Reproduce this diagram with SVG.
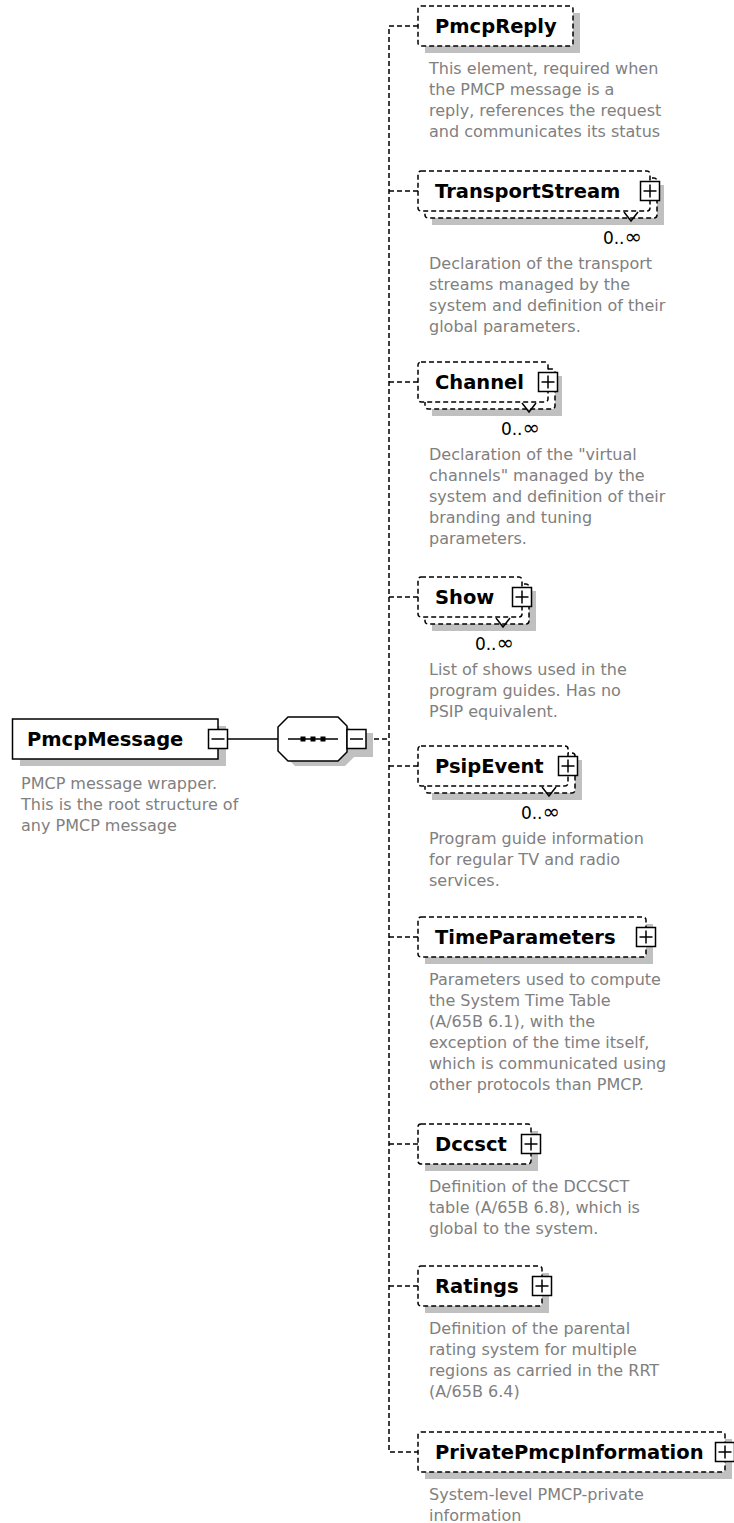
<svg xmlns="http://www.w3.org/2000/svg" width="734" height="1523" viewBox="0 0 734 1523">
  <style>
    .title { font-family: "DejaVu Sans", sans-serif; font-weight: bold; font-size: 19.5px; fill: #000; }
    .desc { font-family: "DejaVu Sans", sans-serif; font-size: 16px; fill: #808080; }
    .occ { font-family: "DejaVu Sans", sans-serif; font-size: 17px; fill: #000; text-anchor: end; }
    .inf { font-size: 21px; }
    .shadow { fill: #c0c0c0; stroke: none; }
    .req { fill: #fff; stroke: #000; stroke-width: 1.5; }
    .opt { fill: #fff; stroke: #000; stroke-width: 1.5; stroke-dasharray: 5 3; }
    .btn { fill: #fff; stroke: #000; stroke-width: 1.5; }
    .sign { fill: none; stroke: #000; stroke-width: 1.5; }
    .solid { fill: none; stroke: #000; stroke-width: 1.5; }
    .dash { fill: none; stroke: #000; stroke-width: 1.5; stroke-dasharray: 5 3; }
  </style>
  <defs>
    <!-- expand / collapse buttons, centred on 0,0 -->
    <g id="plus">
      <rect class="btn" x="-9.5" y="-9.5" width="19" height="19"/>
      <path class="sign" d="M-6.5 0H6.5M0 -6.5V6.5"/>
    </g>
    <g id="minus">
      <rect class="btn" x="-9.5" y="-9.5" width="19" height="19"/>
      <path class="sign" d="M-6.5 0H6.5"/>
    </g>
  </defs>
  <rect width="734" height="1523" fill="#fff"/>

  <!-- connectors -->
  <g id="connectors">
    <path class="solid" d="M227.5 739H278"/>
    <path class="dash" d="M366 739H389"/>
    <path class="dash" d="M418 26H389V1452H418"/>
    <path class="dash" d="M389 191H418M389 382H418M389 597H418M389 766H418M389 937H418M389 1144H418M389 1286H418"/>
  </g>

  <!-- root element -->
  <g id="PmcpMessage">
    <rect class="shadow" x="20" y="726" width="206" height="40"/>
    <rect class="req" x="12.5" y="719" width="205.5" height="40"/>
    <use href="#minus" x="218" y="739"/>
    <text class="title" x="27" y="746">PmcpMessage</text>
    <text class="desc" x="21" y="789">PMCP message wrapper.</text>
    <text class="desc" x="21" y="810">This is the root structure of</text>
    <text class="desc" x="21" y="831">any PMCP message</text>
  </g>

  <!-- sequence compositor -->
  <g id="sequence">
    <polygon class="shadow" points="295,724 345,724 354,733 373,733 373,757 354,757 345,766 295,766 285,756 285,734"/>
    <polygon class="req" points="288,717 338,717 347,726 347,752 338,761 288,761 278,751 278,727"/>
    <path class="solid" d="M288 739H338"/>
    <rect x="300.5" y="736.5" width="5" height="5" fill="#000"/>
    <rect x="310.5" y="736.5" width="5" height="5" fill="#000"/>
    <rect x="320.5" y="736.5" width="5" height="5" fill="#000"/>
    <rect class="btn" x="347" y="729.5" width="19" height="19"/>
    <path class="sign" d="M350 739H363"/>
  </g>

  <g id="PmcpReply">
    <rect class="shadow" x="425" y="13" width="155" height="40"/>
    <rect class="opt" x="418" y="6" width="155" height="40" rx="3"/>
    <text class="title" x="435" y="33">PmcpReply</text>
    <text class="desc" x="429" y="74">This element, required when</text>
    <text class="desc" x="429" y="95">the PMCP message is a</text>
    <text class="desc" x="429" y="116">reply, references the request</text>
    <text class="desc" x="429" y="137">and communicates its status</text>
  </g>

  <g id="TransportStream">
    <rect class="shadow" x="432" y="185" width="232" height="40"/>
    <rect class="opt" x="425" y="178" width="232" height="40" rx="3"/>
    <rect class="opt" x="418" y="171" width="232" height="40" rx="3"/>
    <path class="solid" d="M624 212L631 221L638 212"/>
    <use href="#plus" x="650" y="191"/>
    <text class="title" x="435" y="198">TransportStream</text>
    <text class="occ" x="642" y="244">0..<tspan class="inf">∞</tspan></text>
    <text class="desc" x="429" y="269">Declaration of the transport</text>
    <text class="desc" x="429" y="290">streams managed by the</text>
    <text class="desc" x="429" y="311">system and definition of their</text>
    <text class="desc" x="429" y="332">global parameters.</text>
  </g>

  <g id="Channel">
    <rect class="shadow" x="432" y="376" width="130" height="40"/>
    <rect class="opt" x="425" y="369" width="130" height="40" rx="3"/>
    <rect class="opt" x="418" y="362" width="130" height="40" rx="3"/>
    <path class="solid" d="M522 403L529 412L536 403"/>
    <use href="#plus" x="548" y="382"/>
    <text class="title" x="435" y="389">Channel</text>
    <text class="occ" x="540" y="435">0..<tspan class="inf">∞</tspan></text>
    <text class="desc" x="429" y="460">Declaration of the "virtual</text>
    <text class="desc" x="429" y="481">channels" managed by the</text>
    <text class="desc" x="429" y="502">system and definition of their</text>
    <text class="desc" x="429" y="523">branding and tuning</text>
    <text class="desc" x="429" y="544">parameters.</text>
  </g>

  <g id="Show">
    <rect class="shadow" x="432" y="591" width="104" height="40"/>
    <rect class="opt" x="425" y="584" width="104" height="40" rx="3"/>
    <rect class="opt" x="418" y="577" width="104" height="40" rx="3"/>
    <path class="solid" d="M496 618L503 627L510 618"/>
    <use href="#plus" x="522" y="597"/>
    <text class="title" x="435" y="604">Show</text>
    <text class="occ" x="514" y="650">0..<tspan class="inf">∞</tspan></text>
    <text class="desc" x="429" y="675">List of shows used in the</text>
    <text class="desc" x="429" y="696">program guides. Has no</text>
    <text class="desc" x="429" y="717">PSIP equivalent.</text>
  </g>

  <g id="PsipEvent">
    <rect class="shadow" x="432" y="760" width="150" height="40"/>
    <rect class="opt" x="425" y="753" width="150" height="40" rx="3"/>
    <rect class="opt" x="418" y="746" width="150" height="40" rx="3"/>
    <path class="solid" d="M542 787L549 796L556 787"/>
    <use href="#plus" x="568" y="766"/>
    <text class="title" x="435" y="773">PsipEvent</text>
    <text class="occ" x="560" y="819">0..<tspan class="inf">∞</tspan></text>
    <text class="desc" x="429" y="844">Program guide information</text>
    <text class="desc" x="429" y="865">for regular TV and radio</text>
    <text class="desc" x="429" y="886">services.</text>
  </g>

  <g id="TimeParameters">
    <rect class="shadow" x="425" y="924" width="228" height="40"/>
    <rect class="opt" x="418" y="917" width="228" height="40" rx="3"/>
    <use href="#plus" x="646" y="937"/>
    <text class="title" x="435" y="944">TimeParameters</text>
    <text class="desc" x="429" y="985">Parameters used to compute</text>
    <text class="desc" x="429" y="1006">the System Time Table</text>
    <text class="desc" x="429" y="1027">(A/65B 6.1), with the</text>
    <text class="desc" x="429" y="1048">exception of the time itself,</text>
    <text class="desc" x="429" y="1069">which is communicated using</text>
    <text class="desc" x="429" y="1090">other protocols than PMCP.</text>
  </g>

  <g id="Dccsct">
    <rect class="shadow" x="425" y="1131" width="113" height="40"/>
    <rect class="opt" x="418" y="1124" width="113" height="40" rx="3"/>
    <use href="#plus" x="531" y="1144"/>
    <text class="title" x="435" y="1151">Dccsct</text>
    <text class="desc" x="429" y="1192">Definition of the DCCSCT</text>
    <text class="desc" x="429" y="1213">table (A/65B 6.8), which is</text>
    <text class="desc" x="429" y="1234">global to the system.</text>
  </g>

  <g id="Ratings">
    <rect class="shadow" x="425" y="1273" width="124" height="40"/>
    <rect class="opt" x="418" y="1266" width="124" height="40" rx="3"/>
    <use href="#plus" x="542" y="1286"/>
    <text class="title" x="435" y="1293">Ratings</text>
    <text class="desc" x="429" y="1334">Definition of the parental</text>
    <text class="desc" x="429" y="1355">rating system for multiple</text>
    <text class="desc" x="429" y="1376">regions as carried in the RRT</text>
    <text class="desc" x="429" y="1397">(A/65B 6.4)</text>
  </g>

  <g id="PrivatePmcpInformation">
    <rect class="shadow" x="425" y="1439" width="307" height="40"/>
    <rect class="opt" x="418" y="1432" width="307" height="40" rx="3"/>
    <use href="#plus" x="725" y="1452"/>
    <text class="title" x="435" y="1459">PrivatePmcpInformation</text>
    <text class="desc" x="429" y="1500">System-level PMCP-private</text>
    <text class="desc" x="429" y="1521">information</text>
  </g>
</svg>
